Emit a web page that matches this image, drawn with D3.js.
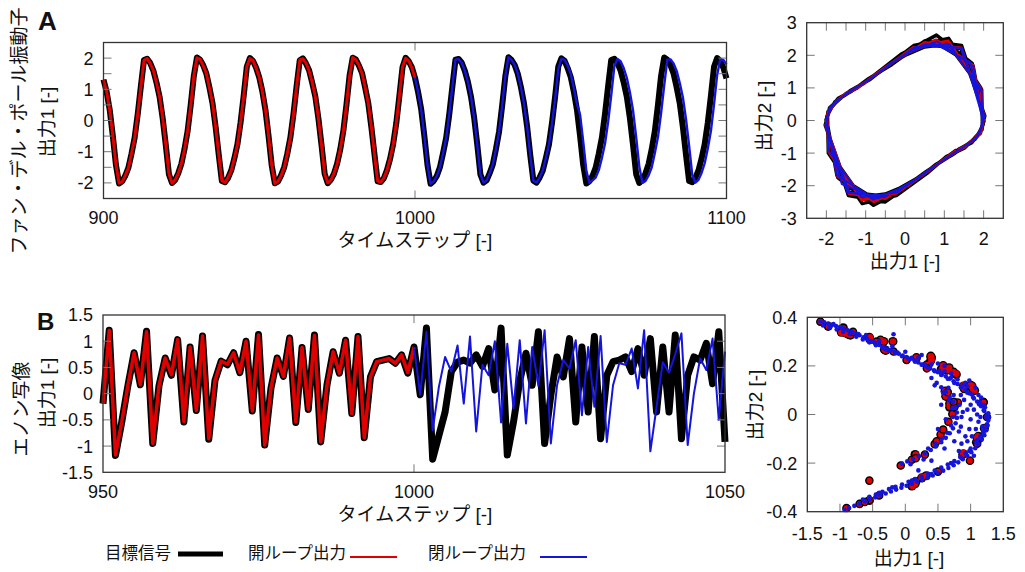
<!DOCTYPE html>
<html>
<head>
<meta charset="utf-8">
<script src="https://cdn.jsdelivr.net/npm/d3@7"></script>
<style>
  body { margin: 0; background: #fff; }
  svg text { font-family: "Liberation Sans", "Noto Sans CJK JP", sans-serif; fill: #111; }
</style>
</head>
<body>
<svg id="chart" width="1025" height="572"></svg>
<script>
// ---- Panel A: Van der Pol, time series (steps 900..1100) ----
const targetA1 = [
  1.31,0.92,0.34,-0.50,-1.43,-2.02,-1.95,-1.77,-1.51,-1.06,-0.55,0.21,1.10,1.94,1.98,1.84,1.60,1.22,0.76,0.07,-0.79,-1.72,-2.00,-1.91,-1.69,-1.39,-0.92,-0.34,0.50,1.43,2.02,1.95,1.77,1.51,1.06,0.55,-0.21,-1.10,-1.94,-1.98,-1.84,-1.60,-1.22,-0.76,-0.07,0.79,1.72,2.00,1.91,1.69,
  1.38,0.93,0.33,-0.51,-1.44,-2.01,-1.96,-1.76,-1.50,-1.07,-0.54,0.22,1.11,1.93,1.99,1.83,1.61,1.21,0.77,0.06,-0.80,-1.71,-2.01,-1.90,-1.70,-1.38,-0.93,-0.33,0.51,1.44,2.01,1.96,1.76,1.52,1.05,0.56,-0.22,-1.09,-1.95,-1.97,-1.85,-1.59,-1.23,-0.75,-0.08,0.80,1.71,2.01,1.90,1.70,
  1.37,0.91,0.35,-0.49,-1.42,-2.03,-1.94,-1.78,-1.50,-1.05,-0.56,0.20,1.09,1.95,1.97,1.85,1.59,1.23,0.75,0.08,-0.78,-1.73,-1.99,-1.92,-1.68,-1.40,-0.91,-0.35,0.49,1.42,2.03,1.94,1.78,1.50,1.07,0.54,-0.20,-1.11,-1.93,-1.99,-1.83,-1.61,-1.21,-0.77,-0.06,0.78,1.73,1.99,1.92,1.68,
  1.39,0.92,0.34,-0.50,-1.43,-2.02,-1.95,-1.77,-1.51,-1.06,-0.55,0.21,1.10,1.94,1.98,1.84,1.60,1.22,0.76,0.07,-0.79,-1.72,-2.00,-1.91,-1.69,-1.39,-0.92,-0.34,0.50,1.43,2.02,1.95,1.77,1.51,1.06,0.55,-0.21,-1.10,-1.94,-1.98,-1.84,-1.60,-1.22,-0.76,-0.07,0.79,1.72,2.00,1.91,1.69,1.35
];
const targetA2 = [
  -0.90,-1.25,-1.76,-2.35,-2.23,-0.16,0.26,0.57,0.81,1.14,1.58,2.23,2.37,0.97,-0.14,-0.48,-0.73,-1.02,-1.39,-1.99,-2.42,-1.71,-0.01,0.38,0.66,0.90,1.25,1.76,2.35,2.23,0.16,-0.26,-0.57,-0.81,-1.14,-1.58,-2.23,-2.37,-0.97,0.13,0.47,0.73,1.01,1.39,1.99,2.42,1.71,0.01,-0.38,-0.66,
  -0.92,-1.23,-1.80,-2.50,-2.30,-0.20,0.27,0.55,0.83,1.12,1.60,2.30,2.52,1.00,-0.12,-0.50,-0.71,-1.05,-1.36,-2.05,-2.60,-1.75,0.02,0.36,0.68,0.88,1.28,1.72,2.45,2.30,0.20,-0.28,-0.55,-0.84,-1.11,-1.62,-2.30,-2.55,-1.00,0.15,0.45,0.75,0.99,1.42,2.05,2.62,1.75,-0.02,-0.36,-0.68,
  -0.88,-1.27,-1.74,-2.32,-2.20,-0.14,0.24,0.58,0.80,1.15,1.56,2.21,2.35,0.95,-0.15,-0.47,-0.74,-1.01,-1.40,-1.97,-2.40,-1.69,0.00,0.39,0.65,0.91,1.24,1.77,2.33,2.21,0.14,-0.25,-0.58,-0.80,-1.15,-1.56,-2.21,-2.35,-0.95,0.12,0.48,0.72,1.02,1.38,1.97,2.40,1.69,0.00,-0.39,-0.65,
  -0.90,-1.25,-1.76,-2.35,-2.23,-0.16,0.26,0.57,0.81,1.14,1.58,2.23,2.37,0.97,-0.14,-0.48,-0.73,-1.02,-1.39,-1.99,-2.42,-1.71,-0.01,0.38,0.66,0.90,1.25,1.76,2.35,2.23,0.16,-0.26,-0.57,-0.81,-1.14,-1.58,-2.23,-2.37,-0.97,0.13,0.47,0.73,1.01,1.39,1.99,2.42,1.71,0.01,-0.38,-0.66,-0.90
];
// open loop, steps 900..1000
const openA1 = [
  1.30,0.93,0.33,-0.49,-1.42,-2.01,-1.96,-1.76,-1.52,-1.05,-0.56,0.22,1.09,1.93,1.99,1.83,1.61,1.21,0.77,0.08,-0.78,-1.71,-2.01,-1.90,-1.70,-1.38,-0.93,-0.33,0.49,1.44,2.01,1.96,1.76,1.52,1.05,0.56,-0.22,-1.09,-1.93,-1.99,-1.83,-1.61,-1.21,-0.77,-0.06,0.78,1.73,1.99,1.92,1.68,
  1.39,0.92,0.34,-0.50,-1.43,-2.02,-1.95,-1.77,-1.51,-1.06,-0.55,0.21,1.10,1.94,1.98,1.84,1.60,1.22,0.76,0.07,-0.79,-1.72,-2.00,-1.91,-1.69,-1.39,-0.92,-0.34,0.50,1.43,2.02,1.95,1.77,1.51,1.06,0.55,-0.21,-1.10,-1.94,-1.98,-1.84,-1.60,-1.22,-0.76,-0.07,0.79,1.72,2.00,1.91,1.69,1.36
];
const openA2 = [
  -0.91,-1.24,-1.77,-2.36,-2.22,-0.15,0.27,0.56,0.82,1.13,1.59,2.24,2.36,0.98,-0.13,-0.49,-0.72,-1.03,-1.38,-2.00,-2.43,-1.70,-0.02,0.39,0.65,0.91,1.24,1.77,2.36,2.22,0.15,-0.27,-0.56,-0.82,-1.13,-1.59,-2.24,-2.36,-0.98,0.14,0.46,0.74,1.00,1.40,2.00,2.43,1.70,0.02,-0.39,-0.65,
  -0.90,-1.25,-1.76,-2.40,-2.25,-0.16,0.26,0.57,0.81,1.14,1.58,2.25,2.45,0.97,-0.14,-0.48,-0.73,-1.02,-1.39,-1.99,-2.50,-1.71,-0.01,0.38,0.66,0.90,1.25,1.76,2.40,2.23,0.16,-0.26,-0.57,-0.81,-1.14,-1.58,-2.23,-2.45,-0.97,0.13,0.47,0.73,1.01,1.39,1.99,2.48,1.71,0.01,-0.38,-0.66,-0.89
];
// closed loop, steps 1000..1100
const closedA1 = [
  1.37,0.91,0.35,-0.49,-1.42,-2.03,-1.94,-1.78,-1.50,-1.05,-0.56,0.20,1.09,1.95,1.97,1.85,1.59,1.23,0.75,0.08,-0.78,-1.73,-1.99,-1.92,-1.68,-1.40,-0.91,-0.35,0.49,1.42,2.03,1.94,1.78,1.50,1.07,0.54,-0.20,-1.11,-1.93,-1.99,-1.83,-1.61,-1.21,-0.77,-0.10,0.70,1.65,1.98,
  1.94,1.76,1.49,1.04,0.53,0.18,-0.68,-1.61,-2.00,-1.92,-1.83,-1.59,-1.20,-0.74,-0.04,0.81,1.74,1.97,1.90,1.68,1.37,0.90,0.32,-0.53,-1.47,-2.00,-1.94,-1.76,-1.50,-1.04,-0.53,0.24,1.13,1.95,1.96,1.83,1.59,1.20,0.74,0.04,-0.81,-1.74,-1.99,-1.90,-1.68,-1.37,-0.90,-0.33,0.52,1.46,1.96,1.94,1.80
];
const closedA2 = [
  -0.88,-1.27,-1.74,-2.32,-2.20,-0.14,0.24,0.58,0.80,1.15,1.56,2.21,2.35,0.95,-0.15,-0.47,-0.74,-1.01,-1.40,-1.97,-2.40,-1.69,0.00,0.39,0.65,0.91,1.24,1.77,2.33,2.21,0.14,-0.25,-0.58,-0.80,-1.15,-1.56,-2.21,-2.35,-0.95,0.12,0.48,0.72,1.02,1.38,1.97,2.38,1.80,0.10,
  -0.27,-0.58,-0.81,-1.15,-1.60,-1.90,-2.39,-1.95,-0.07,0.33,0.48,0.74,1.03,1.41,2.01,2.43,1.66,-0.01,-0.39,-0.67,-0.91,-1.27,-1.78,-2.36,-2.21,-0.14,0.27,0.58,0.81,1.15,1.59,2.25,2.35,0.87,-0.15,-0.48,-0.74,-1.03,-1.41,-2.01,-2.43,-1.66,0.00,0.39,0.66,0.91,1.26,1.78,2.36,2.22,0.14,-0.27,-0.58
];

// ---- Panel B: Henon map, time series (steps 950..1050) ----
const targetB1 = [
  -0.19,1.21,-1.18,-0.55,0.15,0.78,0.17,1.19,-0.95,0.15,
  0.68,0.35,1.03,-0.54,0.89,-0.32,1.10,-0.87,0.25,0.62,
  0.55,0.78,0.40,1.00,-0.33,1.13,-0.98,0.10,0.68,0.33,
  1.06,-0.55,0.88,-0.30,1.12,-0.92,0.16,0.80,0.39,1.02,
  -0.38,1.09,-0.84,0.32,0.61,0.64,0.67,0.58,0.74,0.39,
  0.89,-0.02,1.25,-1.25,-0.80,-0.35,0.42,0.60,0.64,0.58,
  0.74,0.52,0.86,0.07,1.25,-1.17,-0.54,0.24,0.77,0.16,
  1.18,-0.95,-0.03,0.70,0.32,1.05,-0.54,0.89,-0.35,1.09,
  -0.86,0.35,0.61,0.64,0.70,0.42,0.86,0.35,1.05,-0.35,
  0.89,-0.35,1.12,-0.86,0.35,0.70,0.64,0.96,0.19,1.18,
  -0.92
];
const targetB2 = [
  0.300,-0.057,0.363,-0.354,-0.165,0.045,0.234,0.051,0.357,-0.285,
  0.045,0.204,0.105,0.309,-0.162,0.267,-0.096,0.330,-0.261,0.075,
  0.186,0.165,0.234,0.120,0.300,-0.099,0.339,-0.294,0.030,0.204,
  0.099,0.318,-0.165,0.264,-0.090,0.336,-0.276,0.048,0.240,0.117,
  0.306,-0.114,0.327,-0.252,0.096,0.183,0.192,0.201,0.174,0.222,
  0.117,0.267,-0.006,0.375,-0.375,-0.240,-0.105,0.126,0.180,0.192,
  0.174,0.222,0.156,0.258,0.021,0.375,-0.351,-0.162,0.072,0.231,
  0.048,0.354,-0.285,-0.009,0.210,0.096,0.315,-0.162,0.267,-0.105,
  0.327,-0.258,0.105,0.183,0.192,0.210,0.126,0.258,0.105,0.315,
  -0.105,0.267,-0.105,0.336,-0.258,0.105,0.210,0.192,0.288,0.057,
  0.354
];
// open loop, steps 950..1000
const openB1 = [
  -0.19,1.21,-1.17,-0.55,0.16,0.78,0.17,1.18,-0.95,0.15,0.68,0.36,1.03,-0.53,0.89,-0.32,1.10,-0.86,0.25,0.62,
  0.56,0.78,0.40,1.00,-0.33,1.12,-0.98,0.11,0.68,0.33,1.06,-0.54,0.88,-0.30,1.11,-0.92,0.16,0.80,0.39,1.02,
  -0.38,1.09,-0.84,0.32,0.61,0.64,0.67,0.58,0.74,0.40,0.89
];
const openB2 = [
  0.300,-0.057,0.363,-0.351,-0.165,0.048,0.234,0.051,0.354,-0.285,0.045,0.204,0.108,0.309,-0.159,0.267,-0.096,0.330,-0.258,0.075,
  0.186,0.168,0.234,0.120,0.300,-0.099,0.336,-0.294,0.033,0.204,0.099,0.318,-0.162,0.264,-0.090,0.333,-0.276,0.048,0.240,0.117,
  0.306,-0.114,0.327,-0.252,0.096,0.183,0.192,0.201,0.174,0.222,0.120
];
// further open-loop points (target under them) seen in the right-hand scatter
const openScatterExtra = [
  [-0.90,-0.385],[-0.70,-0.368],[-0.62,-0.360],[-0.55,-0.272],[-0.40,-0.333],[-0.07,-0.210],[0.10,-0.186],[0.16,-0.180],[0.30,-0.165],[0.45,-0.122],
  [0.48,-0.110],[0.54,-0.082],[0.58,-0.062],[0.66,-0.030],[0.72,0.002],[0.75,0.030],[0.74,0.052],[0.65,0.092],[0.99,-0.190],[1.25,-0.010],
  [1.20,0.050],[0.02,0.224],[-0.18,0.259],[-0.44,0.300],[-0.80,0.340],[-1.30,0.382],[0.33,0.190],[1.10,-0.120],[0.50,-0.235],[0.90,0.105]
];
// closed loop, steps 1000..1050
const closedB1 = [
  0.89,-0.02,1.18,-0.70,0.13,0.70,0.42,0.92,-0.19,1.09,
  -0.72,0.55,0.35,1.00,-0.55,0.95,-0.28,1.02,-0.57,0.89,
  0.15,1.21,-0.95,0.16,0.64,0.48,1.02,-0.41,0.89,-0.25,
  1.10,-0.92,0.16,0.58,0.55,0.86,0.10,1.21,-1.10,-0.25,
  0.60,0.40,0.75,1.15,-0.98,0.00,0.67,0.45,1.05,-0.50,
  0.80
];
// closed loop attractor points (出力1, 出力2)
const closedScatter = [
  [-1.30,0.383],[-1.24,0.379],[-1.18,0.374],[-1.12,0.369],[-1.06,0.364],[-1.00,0.360],[-0.94,0.353],[-0.88,0.347],[-0.82,0.340],[-0.76,0.333],
  [-0.70,0.326],[-0.64,0.318],[-0.58,0.310],[-0.52,0.302],[-0.46,0.294],[-0.40,0.286],[-0.34,0.279],[-0.28,0.271],[-0.22,0.264],[-0.16,0.257],
  [-0.10,0.250],[-0.04,0.243],[0.02,0.236],[0.08,0.229],[0.14,0.222],[0.20,0.214],[0.26,0.206],[0.32,0.198],[0.38,0.190],[0.44,0.182],
  [0.50,0.174],[0.56,0.166],[0.62,0.157],[0.68,0.147],[0.74,0.137],[0.80,0.126],[0.86,0.114],[0.92,0.101],[0.98,0.087],[1.04,0.071],
  [1.10,0.053],[1.16,0.034],[1.21,0.014],[1.25,-0.006],
  [-1.26,0.366],[-1.16,0.358],[-1.05,0.350],[-0.95,0.340],[-0.85,0.330],[-0.75,0.320],[-0.65,0.309],[-0.55,0.297],[-0.45,0.285],[-0.35,0.274],
  [-0.25,0.263],[-0.15,0.252],[-0.05,0.240],[0.05,0.229],[0.15,0.217],[0.25,0.205],[0.35,0.192],[0.45,0.178],[0.55,0.163],[0.65,0.147],
  [0.75,0.130],[0.85,0.111],[0.95,0.090],[1.05,0.066],[1.13,0.042],[1.20,0.018],[1.24,-0.010],
  [-0.60,0.327],[-0.40,0.303],[-0.20,0.281],[0.00,0.258],[0.20,0.234],[0.40,0.207],[0.60,0.178],[0.80,0.145],[0.95,0.115],
  [1.27,-0.025],[1.26,-0.045],[1.24,-0.065],[1.21,-0.085],[1.17,-0.103],[1.12,-0.122],[1.07,-0.139],[1.01,-0.155],[0.95,-0.170],[0.88,-0.184],
  [0.81,-0.197],[0.74,-0.209],[0.66,-0.220],[0.58,-0.231],[0.50,-0.241],[0.42,-0.251],[0.34,-0.260],[0.26,-0.269],[0.18,-0.277],[0.10,-0.285],
  [0.02,-0.293],[-0.06,-0.301],[-0.14,-0.309],[-0.22,-0.317],[-0.30,-0.325],[-0.38,-0.333],[-0.46,-0.341],[-0.54,-0.349],[-0.62,-0.358],[-0.70,-0.367],
  [-0.78,-0.376],[-0.86,-0.385],[-0.93,-0.393],
  [1.22,-0.060],[1.15,-0.090],[1.08,-0.115],[1.00,-0.140],[0.92,-0.160],[0.84,-0.175],[0.75,-0.192],[0.65,-0.206],[0.55,-0.218],[0.45,-0.231],
  [0.35,-0.244],[0.25,-0.256],[0.15,-0.266],[0.05,-0.277],[-0.05,-0.288],[-0.15,-0.298],[-0.25,-0.307],[-0.35,-0.318],[-0.45,-0.329],[-0.55,-0.339],
  [0.40,0.150],[0.48,0.130],[0.55,0.112],[0.62,0.092],[0.68,0.072],[0.73,0.052],[0.77,0.030],[0.79,0.008],[0.79,-0.014],[0.77,-0.036],
  [0.73,-0.057],[0.68,-0.077],[0.62,-0.096],[0.55,-0.114],[0.47,-0.131],[0.39,-0.146],[0.30,-0.160],[0.21,-0.172],[0.12,-0.183],[0.03,-0.193],[-0.05,-0.202],
  [0.45,0.120],[0.58,0.090],[0.67,0.058],[0.72,0.025],[0.73,-0.010],[0.70,-0.045],[0.64,-0.075],[0.56,-0.100],[0.46,-0.120],[0.35,-0.140],
  [1.00,0.040],[1.05,0.020],[1.10,0.000],[1.12,-0.030],[1.08,-0.060],[1.02,-0.090],[0.95,-0.110],[0.90,0.060],[0.95,0.020],[1.00,-0.020],
  [0.98,-0.060],[0.92,-0.090],[0.86,-0.120],[1.15,-0.010],[1.18,-0.050],[1.20,0.040],[0.85,0.080],[0.88,0.010],
  [-0.18,0.330],[0.25,0.245],[0.50,0.210],[0.70,0.170],[0.55,0.040],[0.62,-0.020],[0.50,-0.060],[0.85,-0.050],[0.82,-0.150],[1.05,-0.170],
  [0.40,-0.190],[0.20,-0.230],[0.92,0.130],[1.12,0.080],
  [-1.10,0.372],[-0.98,0.357],[-0.72,0.331],[-0.50,0.300],[-0.30,0.268],[-0.12,0.255],[0.10,0.233],[0.30,0.205],[0.52,0.180],[0.70,0.152],
  [0.88,0.120],[1.02,0.082],[1.14,0.050],[1.22,0.030],[1.27,0.005],[1.28,-0.012],[1.25,-0.040],[1.19,-0.072],[1.10,-0.105],[0.98,-0.150],
  [0.86,-0.180],[0.70,-0.200],[0.40,-0.245],[0.10,-0.272],[-0.20,-0.300],[-0.40,-0.322],[-0.65,-0.350],[0.66,0.110],[0.74,0.080],[0.83,0.040],
  [0.86,-0.010],[0.82,-0.070],[0.75,-0.110],[0.60,-0.140],[0.28,-0.185],[0.08,-0.205],[1.07,0.110],[1.16,0.070],[0.98,0.140],[0.60,0.200]
];

// tick values / labels
const ticksAx = [1000], labelsAx = [900, 1000, 1100];
const ticksAy = [-2, -1.5, -1, -0.5, 0, 0.5, 1, 1.5, 2], labelsAy = [-2, -1, 0, 1, 2];
const ticksAPx = [-2, -1.5, -1, -0.5, 0, 0.5, 1, 1.5, 2], labelsAPx = [-2, -1, 0, 1, 2];
const ticksAPy = [-2, -1, 0, 1, 2], labelsAPy = [-3, -2, -1, 0, 1, 2, 3];
const ticksBx = [1000], labelsBx = [950, 1000, 1050];
const ticksBy = [-1, -0.5, 0, 0.5, 1], labelsBy = [-1.5, -1, -0.5, 0, 0.5, 1, 1.5];
const ticksBPx = [-1, -0.5, 0, 0.5, 1], labelsBPx = [-1.5, -1, -0.5, 0, 0.5, 1, 1.5];
const ticksBPy = [-0.2, 0, 0.2], labelsBPy = [-0.4, -0.2, 0, 0.2, 0.4];

const RED = '#e00000', BLUE = '#1414dc';
const svg = d3.select('#chart');

function makePanel(box, xDomain, yDomain) {
  return {
    box,
    x: d3.scaleLinear().domain(xDomain).range([box.left, box.right]),
    y: d3.scaleLinear().domain(yDomain).range([box.bottom, box.top])
  };
}

function drawAxes(p, xt, yt, xl, yl, xBase) {
  const { left, right, top, bottom } = p.box;
  const g = svg.append('g').attr('stroke', '#777').attr('stroke-width', 1);
  xt.forEach(v => {
    g.append('line').attr('x1', p.x(v)).attr('x2', p.x(v)).attr('y1', bottom).attr('y2', bottom - 8);
    g.append('line').attr('x1', p.x(v)).attr('x2', p.x(v)).attr('y1', top).attr('y2', top + 8);
  });
  yt.forEach(v => {
    g.append('line').attr('x1', left).attr('x2', left + 8).attr('y1', p.y(v)).attr('y2', p.y(v));
    g.append('line').attr('x1', right).attr('x2', right - 8).attr('y1', p.y(v)).attr('y2', p.y(v));
  });
  svg.append('rect')
    .attr('x', left).attr('y', top)
    .attr('width', right - left).attr('height', bottom - top)
    .attr('fill', 'none').attr('stroke', '#333').attr('stroke-width', 1.3);

  svg.append('g').selectAll('text').data(xl).join('text')
    .attr('x', d => p.x(d)).attr('y', xBase)
    .attr('text-anchor', 'middle').attr('font-size', 18)
    .text(d => d);
  svg.append('g').selectAll('text').data(yl).join('text')
    .attr('x', left - 10).attr('y', d => p.y(d)).attr('dy', '0.36em')
    .attr('text-anchor', 'end').attr('font-size', 18)
    .text(d => d);
}

function label(text, x, y, rotate, size) {
  svg.append('text')
    .attr('transform', `translate(${x},${y})` + (rotate ? ' rotate(-90)' : ''))
    .attr('text-anchor', 'middle')
    .attr('font-size', size || 19)
    .text(text);
}

function series(p, steps, values, color, width) {
  svg.append('path')
    .datum(values)
    .attr('fill', 'none')
    .attr('stroke', color)
    .attr('stroke-width', width)
    .attr('stroke-linejoin', 'round')
    .attr('d', d3.line().x((d, i) => p.x(steps[i])).y(d => p.y(d)));
}

function loop(p, xs, ys, color, width) {
  svg.append('path')
    .datum(d3.zip(xs, ys))
    .attr('fill', 'none')
    .attr('stroke', color)
    .attr('stroke-width', width)
    .attr('stroke-linejoin', 'round')
    .attr('d', d3.line().x(d => p.x(d[0])).y(d => p.y(d[1])));
}

function dots(p, points, r, fill, stroke) {
  svg.append('g').selectAll('circle').data(points).join('circle')
    .attr('cx', d => p.x(d[0])).attr('cy', d => p.y(d[1])).attr('r', r)
    .attr('fill', fill)
    .attr('stroke', stroke || 'none').attr('stroke-width', stroke ? 1.4 : 0);
}

// ---------- A : time series ----------
const pA = makePanel({ left: 103.5, right: 726.5, top: 42.5, bottom: 198.5 }, [900, 1100], [-2.5, 2.5]);
series(pA, d3.range(900, 1101), targetA1, '#000', 6);
series(pA, d3.range(900, 1001), openA1, RED, 3);
series(pA, d3.range(1000, 1101), closedA1, BLUE, 2.4);
drawAxes(pA, ticksAx, ticksAy, labelsAx, labelsAy, 224);
label('タイムステップ [-]', 415, 246.5);
label('ファン・デル・ポール振動子', 26, 131, true);
label('出力1 [-]', 54, 122, true);

// ---------- A : phase plot ----------
const pAP = makePanel({ left: 806.7, right: 1003.3, top: 22.7, bottom: 218.3 }, [-2.5, 2.5], [-3, 3]);
loop(pAP, targetA1, targetA2, '#000', 3.5);
loop(pAP, openA1, openA2, RED, 2.5);
loop(pAP, closedA1, closedA2, BLUE, 1.8);
drawAxes(pAP, ticksAPx, ticksAPy, labelsAPx, labelsAPy, 244.5);
label('出力1 [-]', 905, 268);
label('出力2 [-]', 771, 116, true);

// ---------- B : time series ----------
const pB = makePanel({ left: 103, right: 725, top: 315, bottom: 472.3 }, [950, 1050], [-1.5, 1.5]);
series(pB, d3.range(950, 1051), targetB1, '#000', 7);
series(pB, d3.range(950, 1001), openB1, RED, 3.5);
series(pB, d3.range(1000, 1051), closedB1, BLUE, 2);
drawAxes(pB, ticksBx, ticksBy, labelsBx, labelsBy, 498);
label('タイムステップ [-]', 415, 520.5);
label('エノン写像', 28, 409, true);
label('出力1 [-]', 54, 393, true);

// ---------- B : phase plot ----------
const pBP = makePanel({ left: 807.3, right: 1003.3, top: 317.3, bottom: 511.7 }, [-1.5, 1.5], [-0.4, 0.4]);
dots(pBP, d3.zip(targetB1, targetB2).slice(0, openB1.length), 4.6, '#000');
dots(pBP, d3.zip(openB1, openB2), 3.3, RED);
dots(pBP, openScatterExtra, 3.6, RED, '#000');
dots(pBP, closedScatter, 2.3, BLUE);
drawAxes(pBP, ticksBPx, ticksBPy, labelsBPx, labelsBPy, 540);
label('出力1 [-]', 909, 565);
label('出力2 [-]', 762, 405, true);

// ---------- panel letters ----------
svg.append('text').attr('x', 38).attr('y', 30).attr('font-size', 26).attr('font-weight', 'bold').text('A');
svg.append('text').attr('x', 37).attr('y', 330).attr('font-size', 24).attr('font-weight', 'bold').text('B');

// ---------- legend ----------
const legend = [
  { name: '目標信号', x: 105, line: [178, 223], y: 554, color: '#000', width: 5 },
  { name: '開ループ出力', x: 248, line: [350, 397], y: 557, color: RED, width: 2 },
  { name: '閉ループ出力', x: 428, line: [540, 587], y: 557, color: BLUE, width: 2 }
];
legend.forEach(d => {
  svg.append('text').attr('x', d.x).attr('y', 559).attr('font-size', 16.5).text(d.name);
  svg.append('line').attr('x1', d.line[0]).attr('x2', d.line[1]).attr('y1', d.y).attr('y2', d.y)
    .attr('stroke', d.color).attr('stroke-width', d.width);
});
</script>
</body>
</html>
